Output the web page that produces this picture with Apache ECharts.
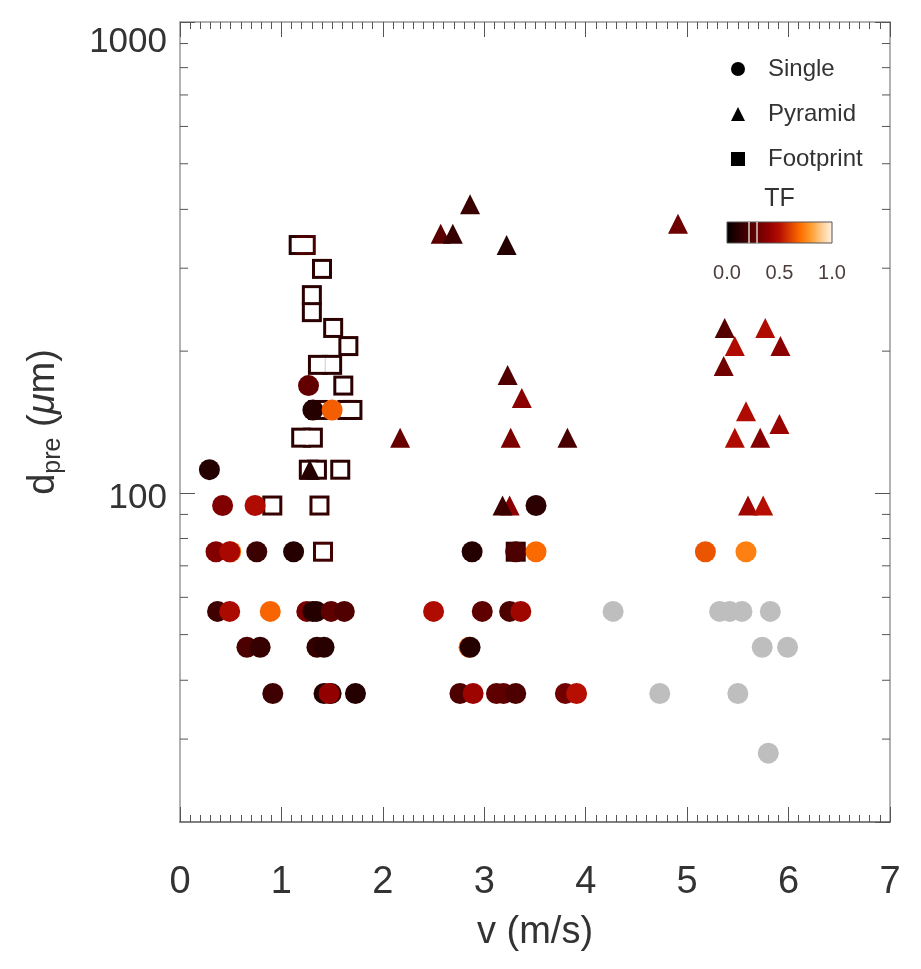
<!DOCTYPE html>
<html>
<head>
<meta charset="utf-8">
<script src="https://cdn.jsdelivr.net/npm/echarts@6/dist/echarts.min.js"></script>
<style>
  html, body { margin: 0; padding: 0; background: #fff; }
  #chart { width: 921px; height: 969px; }
</style>
</head>
<body>
<div id="chart"></div>
<script>
// [v (m/s), d_pre (um), TF]
const singlePoints = [
  [0.29, 112, 0.10],
  [0.42, 94, 0.35], [0.74, 94, 0.48], [3.51, 94, 0.12],
  [0.355, 75, 0.36], [0.50, 75, 0.68], [0.49, 75, 0.46], [0.757, 75, 0.16], [1.12, 75, 0.10],
  [2.88, 75, 0.10], [3.31, 75, 0.21], [3.51, 75, 0.69], [5.18, 75, 0.645], [5.58, 75, 0.735],
  [0.37, 56, 0.17], [0.49, 56, 0.47], [0.89, 56, 0.68], [1.25, 56, 0.33], [1.31, 56, 0.10],
  [1.345, 56, 0.10], [1.49, 56, 0.26], [1.62, 56, 0.22], [2.50, 56, 0.48], [2.98, 56, 0.26],
  [3.25, 56, 0.21], [3.36, 56, 0.44],
  [0.66, 47, 0.21], [0.79, 47, 0.15], [1.35, 47, 0.14], [1.42, 47, 0.11], [2.85, 47, 0.68], [2.86, 47, 0.10],
  [0.915, 37.5, 0.17], [1.42, 37.5, 0.10], [1.49, 37.5, 0.10], [1.47, 37.5, 0.40], [1.73, 37.5, 0.10],
  [2.76, 37.5, 0.21], [2.89, 37.5, 0.43], [3.12, 37.5, 0.26], [3.19, 37.5, 0.26], [3.31, 37.5, 0.21],
  [3.80, 37.5, 0.31], [3.91, 37.5, 0.50],
  [1.267, 169, 0.27], [1.31, 150, 0.10], [1.50, 150, 0.665]
];
// single impacts without a TF value (grey)
const singleNoTF = [
  [4.27, 56], [5.32, 56], [5.42, 56], [5.54, 56], [5.82, 56],
  [5.74, 47], [5.99, 47], [4.73, 37.5], [5.50, 37.5], [5.80, 28]
];
const pyramidPoints = [
  [2.86, 410, 0.16], [2.57, 355, 0.25], [2.69, 355, 0.15], [3.22, 336, 0.10],
  [3.23, 178, 0.22], [3.37, 159, 0.38], [2.17, 131, 0.29], [3.26, 131, 0.34], [3.82, 131, 0.20],
  [3.25, 94, 0.38], [3.18, 94, 0.16], [1.28, 112, 0.10],
  [4.91, 373, 0.30], [5.37, 224, 0.23], [5.77, 224, 0.48], [5.47, 205, 0.48], [5.92, 205, 0.38],
  [5.36, 186, 0.31], [5.58, 149, 0.48], [5.91, 140, 0.42], [5.47, 131, 0.48], [5.72, 131, 0.37],
  [5.60, 94, 0.44], [5.75, 94, 0.50]
];
const footprintPoints = [
  [1.17, 336, 0.10], [1.24, 336, 0.20], [1.40, 299, 0.12], [1.30, 263, 0.12], [1.30, 242, 0.12],
  [1.51, 224, 0.12], [1.66, 205, 0.12], [1.36, 187, 0.12], [1.50, 187, 0.12], [1.61, 169, 0.12],
  [1.36, 150, 0.12], [1.65, 150, 0.12], [1.70, 150, 0.12], [1.195, 131, 0.12], [1.31, 131, 0.12],
  [1.27, 112, 0.12], [1.35, 112, 0.12], [1.58, 112, 0.12], [0.91, 94, 0.15], [1.375, 94, 0.15],
  [1.41, 75, 0.18], [3.31, 75, 0.14]
];
const yMinorTicks = [30, 40, 50, 60, 70, 80, 90, 200, 300, 400, 500, 600, 700, 800, 900];
const tfLabels = ['0.0', '0.5', '1.0'];
// red temperature colour table, t = 0, 0.1 ... 1
const tfColors = ['#000000', '#250000', '#490000', '#6d0000', '#920000', '#b60e00',
                  '#db3f00', '#ff6f00', '#ff9f33', '#ffcd92', '#fff3e6'];

const FONT = '"Liberation Sans", Arial, Helvetica, sans-serif';
const chart = echarts.init(document.getElementById('chart'));

const xAxisBase = {
  type: 'value', min: 0, max: 7, interval: 1,
  splitLine: { show: false },
  axisLine: { onZero: false, lineStyle: { color: '#999', width: 1.5 } },
  axisTick: { inside: true, length: 15, lineStyle: { color: '#555', width: 1 } },
  minorTick: { show: true, splitNumber: 10, length: 7, lineStyle: { color: '#555', width: 1 } }
};
const yAxisBase = {
  type: 'log', logBase: 10, min: 20, max: 1000,
  splitLine: { show: false },
  axisLine: { show: true, onZero: false, lineStyle: { color: '#999', width: 1.5 } },
  axisTick: { show: true, inside: true, length: 15, lineStyle: { color: '#555', width: 1 } },
  minorTick: { show: false }
};

// colour bar legend
const cbX = 727, cbY = 222, cbW = 105, cbH = 21;
const cbStops = tfColors.map((c, i) => ({ offset: i / (tfColors.length - 1), color: c }));
const graphics = [
  { type: 'text', x: cbX + cbW / 2, y: 199,
    style: { text: 'TF', fontSize: 25, fontFamily: FONT, fill: '#333', align: 'center', verticalAlign: 'middle' } },
  { type: 'rect', shape: { x: cbX, y: cbY, width: cbW, height: cbH },
    style: { fill: new echarts.graphic.LinearGradient(0, 0, 1, 0, cbStops), stroke: '#555', lineWidth: 1 } },
  { type: 'line', shape: { x1: 749, y1: cbY, x2: 749, y2: cbY + cbH }, style: { stroke: '#fff', lineWidth: 1.2 } },
  { type: 'line', shape: { x1: 757, y1: cbY, x2: 757, y2: cbY + cbH }, style: { stroke: '#fff', lineWidth: 1.2 } }
];
tfLabels.forEach((t, i) => {
  graphics.push({ type: 'text', x: cbX + i * cbW / 2, y: 273,
    style: { text: t, fontSize: 20, fontFamily: FONT, fill: '#4d3d3d', align: 'center', verticalAlign: 'middle' } });
});

chart.setOption({
  animation: false,
  backgroundColor: '#fff',
  grid: { left: 180, right: 31, top: 22, bottom: 147, containLabel: false },
  xAxis: [
    Object.assign({}, xAxisBase, {
      position: 'bottom',
      axisLine: { onZero: false, lineStyle: { color: '#555', width: 1.5 } },
      axisLabel: { fontSize: 38, color: '#333', fontFamily: FONT, margin: 42 },
      name: 'v (m/s)', nameLocation: 'middle', nameGap: 92,
      nameTextStyle: { fontSize: 38, color: '#333', fontFamily: FONT }
    }),
    Object.assign({}, xAxisBase, { position: 'top', axisLabel: { show: false } })
  ],
  yAxis: [
    Object.assign({}, yAxisBase, {
      position: 'left',
      axisLabel: {
        fontSize: 35, color: '#333', fontFamily: FONT, margin: 13, showMinLabel: false,
        formatter: v => Math.round(v) >= 1000 ? '{top|1000}' : '{n|' + Math.round(v) + '}',
        rich: {
          top: { fontSize: 35, padding: [40, 0, 0, 0] },
          n: { fontSize: 35, padding: [10, 0, 0, 0] }
        }
      },
      name: '{d|d}{sub|pre}{t| (}{mu|\u03bc}{t|m)}',
      nameLocation: 'middle', nameRotate: 90, nameGap: 114,
      nameTextStyle: {
        fontSize: 38, color: '#333', fontFamily: FONT,
        rich: {
          d: { fontSize: 38 },
          sub: { fontSize: 25, padding: [20, 0, 0, 0] },
          t: { fontSize: 38 },
          mu: { fontSize: 38, fontStyle: 'italic' }
        }
      }
    }),
    Object.assign({}, yAxisBase, { position: 'right', axisLabel: { show: false } })
  ],
  visualMap: {
    type: 'continuous', show: false, min: 0, max: 1, dimension: 2,
    seriesIndex: [0, 3, 4],
    inRange: { color: tfColors }
  },
  legend: {
    orient: 'vertical', left: 731, top: 57, padding: 0,
    itemWidth: 14, itemHeight: 14, itemGap: 21, selectedMode: false,
    textStyle: { fontSize: 24, lineHeight: 24, color: '#333', fontFamily: FONT, padding: [0, 0, 0, 18] },
    data: [
      { name: 'Single', icon: 'circle', itemStyle: { color: '#000' } },
      { name: 'Pyramid', icon: 'triangle', itemStyle: { color: '#000' } },
      { name: 'Footprint', icon: 'rect', itemStyle: { color: '#000' } }
    ]
  },
  graphic: graphics,
  series: [
    { // footprint outline: filled square, then white core on top
      name: 'Footprint', type: 'scatter', symbol: 'rect', symbolSize: 20,
      itemStyle: { opacity: 1 },
      data: footprintPoints, emphasis: { disabled: true }
    },
    {
      name: 'Footprint', type: 'scatter', symbol: 'rect', symbolSize: 14,
      itemStyle: { color: '#fff', opacity: 1 },
      data: footprintPoints, emphasis: { disabled: true }
    },
    {
      name: 'Single', type: 'scatter', symbol: 'circle', symbolSize: 21,
      itemStyle: { color: '#bebebe', opacity: 1 },
      data: singleNoTF, emphasis: { disabled: true }
    },
    {
      name: 'Single', type: 'scatter', symbol: 'circle', symbolSize: 21,
      itemStyle: { opacity: 1 },
      data: singlePoints, emphasis: { disabled: true }
    },
    {
      name: 'Pyramid', type: 'scatter', symbol: 'triangle', symbolSize: 20,
      itemStyle: { opacity: 1 },
      data: pyramidPoints, emphasis: { disabled: true }
    },
    { // log minor ticks on both y spines
      type: 'custom', silent: true,
      data: yMinorTicks.map(v => [0, v]),
      renderItem(params, api) {
        const p = api.coord([0, api.value(1)]);
        const cs = params.coordSys;
        const right = cs.x + cs.width;
        return {
          type: 'group',
          children: [
            { type: 'line', shape: { x1: cs.x, y1: p[1], x2: cs.x + 8, y2: p[1] }, style: { stroke: '#555', lineWidth: 1 } },
            { type: 'line', shape: { x1: right, y1: p[1], x2: right - 8, y2: p[1] }, style: { stroke: '#555', lineWidth: 1 } }
          ]
        };
      }
    }
  ]
});
</script>
</body>
</html>
